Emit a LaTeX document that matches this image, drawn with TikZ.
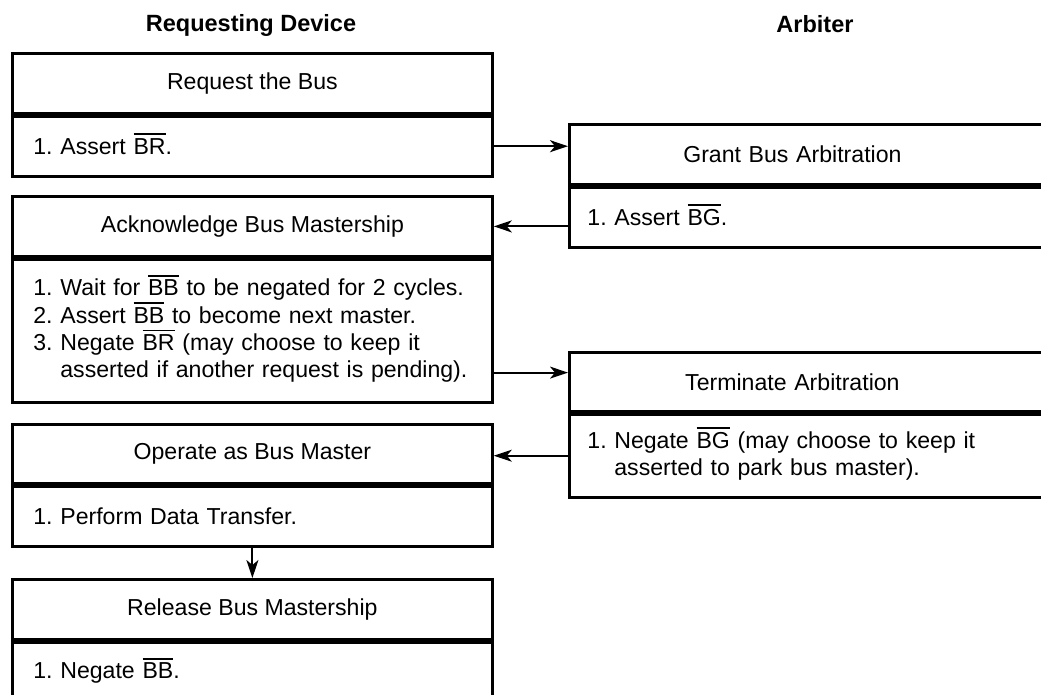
\documentclass[tikz,border=0pt]{standalone}
\usepackage{fontspec}
\setmainfont{Liberation Sans}
\usetikzlibrary{arrows.meta,calc}
\newcommand\olbar[1]{\setbox0\hbox{#1}\rlap{\smash{\rule[\dimexpr\ht0+3pt\relax]{\wd0}{1.8pt}}}\box0\relax}
\tikzset{
  txt/.style={font=\fontsize{23.1}{27.2}\selectfont\frenchspacing},
  hdr/.style={txt, draw, line width=2.8pt, minimum height=60pt, anchor=north west, inner sep=0pt},
  lhdr/.style={hdr, minimum width=480pt},
  rhdr/.style={hdr, text width=492pt, align=center},
  lbody/.style={txt, draw, line width=2.8pt, anchor=north west, inner xsep=21pt, inner ysep=0pt, text width=438pt, align=left},
  rbody/.style={txt, draw, line width=2.8pt, anchor=north west, inner xsep=18pt, inner ysep=0pt, text width=456pt, align=left},
  ttl/.style={font=\fontsize{23.5}{28}\selectfont\bfseries},
  arr/.style={line width=1.9pt, -{Stealth[length=18pt,width=12pt,inset=5pt]}}
}
\begin{document}
\begin{tikzpicture}[x=1pt,y=-1pt]
\useasboundingbox (0,0) rectangle (1041,694);
\clip (0,0) rectangle (1041,694);
\fill[white] (0,0) rectangle (1041,694);

\node[ttl] (tl) at (251,25) {Requesting Device};
\node[ttl] (tr) at (815,24) {Arbiter};

% left column
\node[lhdr] (reqh) at (11,52) {Request the Bus};
\node[lbody, minimum height=60pt] (reqb) at (reqh.south west) {1. Assert \olbar{BR}.};

\node[lhdr] (ackh) at (11,195) {Acknowledge Bus Mastership};
\node[lbody, minimum height=143pt] (ackb) at (ackh.south west) {1. Wait for \olbar{BB} to be negated for 2 cycles.\\2. Assert \olbar{BB} to become next master.\\3. Negate \olbar{BR} (may choose to keep it\\\hphantom{3.\ }\rlap{asserted if another request is pending).}};

\node[lhdr, minimum height=59pt] (oph) at (11,423) {Operate as Bus Master};
\node[lbody, minimum height=60pt] (opb) at (oph.south west) {1. Perform Data Transfer.};

\node[lhdr] (relh) at (11,578) {Release Bus Mastership};
\node[lbody, minimum height=62pt] (relb) at (relh.south west) {1. Negate \olbar{BB}.};

% right column
\node[rhdr] (grh) at (568,123) {\hspace*{-46pt}Grant Bus Arbitration};
\node[rbody, minimum height=60pt] (grb) at (grh.south west) {1. Assert \olbar{BG}.};

\node[rhdr, minimum height=59pt] (trh) at (568,351) {\hspace*{-46pt}Terminate Arbitration};
\node[rbody, minimum height=83pt] (trb) at (trh.south west) {1. Negate \olbar{BG} (may choose to keep it\\\hphantom{1.\ }asserted to park bus master).};

% connectors
\draw[arr] (reqb.east) -- (reqb.east -| grh.west);
\draw[arr] (ackh.east -| grb.west) -- (ackh.east);
\draw[arr] ([yshift=31pt]ackb.south east) -- ([yshift=31pt]ackb.south east -| trh.west);
\draw[arr] (trb.west) -- (trb.west -| oph.east);
\draw[arr] (opb.south) -- (relh.north);
\end{tikzpicture}
\end{document}
